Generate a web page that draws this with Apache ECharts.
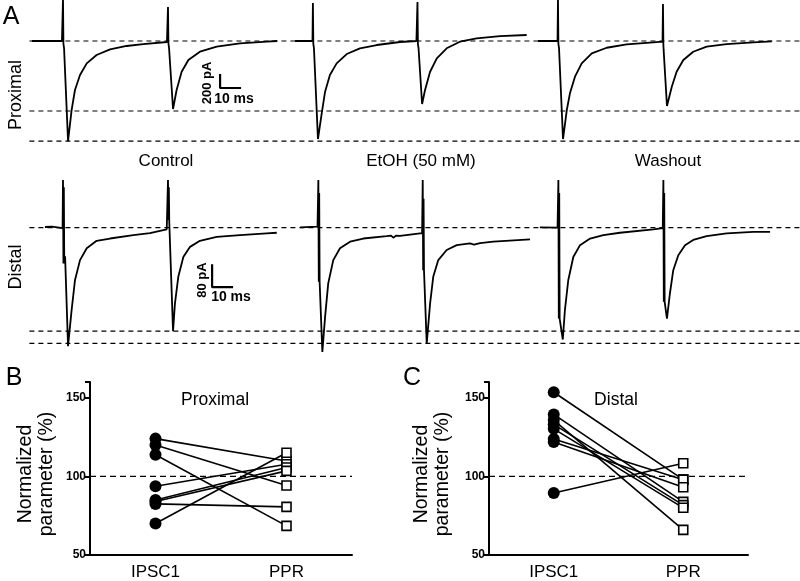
<!DOCTYPE html>
<html>
<head>
<meta charset="utf-8">
<script src="https://cdn.jsdelivr.net/npm/echarts@6/dist/echarts.min.js"></script>
<style>
html,body{margin:0;padding:0;background:#fff;}
#chart{width:800px;height:581px;}
</style>
</head>
<body>
<div id="chart"></div>
<script>
// ---------- Panel A: traces, [time (ms), current (pA)] ----------
const proxControl = [[15.2,0],[29.5,0],[30.0,600],[30.2,-40],[30.5,-100],[32.4,-1429],[34.1,-986],[35.7,-700],[38.1,-486],[41.3,-319],[46.0,-200],[52.4,-119],[60.3,-71],[68.2,-43],[79.5,-14],
  [80.0,486],[80.2,-30],[80.5,-100],[82.4,-971],[84.1,-700],[86.5,-438],[89.7,-271],[95.2,-153],[103.2,-81],[114.3,-33],[127,-10],[132,0]];
const proxEtOH = [[140.5,0],[148.8,0],[149.0,543],[149.2,-40],[149.5,-100],[151.4,-1400],[153.2,-1033],[154.8,-724],[157.1,-486],[160.3,-319],[165.1,-186],[171.4,-104],[179.4,-57],[190.5,-14],[198.3,0],
  [198.8,557],[199.0,-40],[199.3,-100],[201.0,-900],[202.4,-700],[204.8,-439],[208.0,-247],[212.7,-104],[219.0,-10],[227.0,39],[238.1,71],[250.8,86]];
const proxWashout = [[256.2,0],[265.5,0],[265.7,600],[265.9,-40],[266.2,-100],[268.1,-1400],[269.9,-986],[271.4,-747],[273.8,-510],[277.0,-319],[281.8,-176],[288.9,-96],[298.4,-47],[311.1,-19],[315.5,-10],
  [315.7,529],[315.9,-60],[316.0,-120],[317.6,-929],[319.9,-653],[322.2,-439],[325.4,-271],[330.1,-153],[336.5,-81],[346.0,-43],[358.7,-19],[367.5,-4]];
const distControl = [[21.4,2],[24.8,3],[29.8,-2],[30.0,165],[30.2,-125],[30.4,140],[30.6,-125],[31.0,-100],[32.4,-412],[34.1,-287],[35.7,-183],[38.1,-113],[41.3,-72],[46.0,-46],[52.4,-38],[63.5,-26],[71.4,-19],[79.4,-6],
  [80.0,165],[80.2,26],[80.4,140],[80.6,20],[82.4,-360],[83.3,-264],[84.9,-171],[87.3,-102],[90.5,-67],[95.2,-46],[103.2,-32],[114.3,-26],[127.0,-20],[131.8,-18]];
const distEtOH = [[142.9,1],[151.2,3],[151.6,165],[151.8,-188],[152.0,120],[152.2,-188],[153.5,-432],[154.8,-310],[156.3,-194],[158.7,-113],[161.9,-72],[166.7,-49],[173.0,-38],[184.1,-30],[186.2,-28],[187.3,-35],[188.6,-28],[190.5,-29],[201.0,-19],
  [201.3,165],[201.5,-148],[201.7,100],[201.9,-148],[203.2,-403],[204.8,-264],[206.3,-171],[208.7,-113],[212.7,-78],[217.5,-61],[223.8,-55],[225.7,-59],[228.6,-54],[234.9,-49],[252.4,-41]];
const distWashout = [[257.1,1],[265.5,0],[265.9,165],[266.1,-316],[266.3,120],[266.5,-316],[268.0,-389],[269.0,-287],[270.6,-183],[273.0,-102],[276.2,-61],[281.0,-38],[287.3,-26],[295.2,-18],[311.1,-6],[315.6,-2],
  [315.9,165],[316.1,-258],[316.3,120],[316.5,-258],[317.6,-316],[319.0,-229],[320.6,-148],[323.0,-96],[326.2,-61],[330.1,-43],[336.5,-30],[346.0,-20],[358.7,-15],[366.7,-15]];
const proxDashLevels = [0, -1000, -1429];
const distDashLevels = [0, -360, -402];
const dashStart = 14, dashEnd = 381;
const proxScaleBar = [[104.8,-471],[104.8,-671],[114.8,-671]]; // 200 pA, 10 ms
const distScaleBar = [[101,-127],[101,-207],[111,-207]];      // 80 pA, 10 ms
const conditions = ['Control', 'EtOH (50 mM)', 'Washout'];

// ---------- Panels B & C ----------
const groupLabels = ['', 'IPSC1', '', 'PPR', ''];
const yTicks = [50, 100, 150];
const proxIPSC1 = [124, 120, 113.7, 93.7, 85, 84, 82.5, 70];
const proxPPR   = [109.8, 94.2, 68.5, 107.7, 105.6, 103.5, 80.6, 115];
const distIPSC1 = [153.5, 139.4, 135.8, 133.1, 130.2, 123.8, 121.9, 89.4];
const distPPR   = [97.9, 83.8, 66, 81.7, 80, 97.9, 93.1, 108.3];

const FONT = 'Liberation Sans, Arial, sans-serif';
const chart = echarts.init(document.getElementById('chart'), null, {renderer:'canvas'});

function traceSeries(data, xi, yi){
  return {type:'line', xAxisIndex:xi, yAxisIndex:yi, data:data, showSymbol:false, symbol:'none',
    lineStyle:{color:'#000', width:1.8}, z:5, animation:false, clip:true};
}
function dashSeries(levels, xi, yi){
  return levels.map(v => ({type:'line', xAxisIndex:xi, yAxisIndex:yi, data:[[dashStart,v],[dashEnd,v]],
    symbol:'none', lineStyle:{color:'#000', width:1.2, type:[5,4]}, z:2, animation:false}));
}
function pairSeries(a, b, xi, yi){
  const s = [];
  a.forEach((v,i) => s.push({type:'line', xAxisIndex:xi, yAxisIndex:yi, data:[[1,v],[3,b[i]]],
    symbol:'none', lineStyle:{color:'#000', width:1.6}, z:3, animation:false}));
  s.push({type:'line', xAxisIndex:xi, yAxisIndex:yi, data:[[0,100],[4,100]], symbol:'none',
    lineStyle:{color:'#000', width:1.4, type:[6,4]}, z:2, animation:false});
  s.push({type:'scatter', xAxisIndex:xi, yAxisIndex:yi, data:a.map(v=>[1,v]), symbol:'circle', symbolSize:12,
    itemStyle:{color:'#000', opacity:1}, z:6, animation:false});
  s.push({type:'scatter', xAxisIndex:xi, yAxisIndex:yi, data:b.map(v=>[3,v]), symbol:'rect', symbolSize:9,
    itemStyle:{color:'#fff', borderColor:'#000', borderWidth:1.6, opacity:1}, z:6, animation:false});
  return s;
}
const hiddenX = {type:'value', show:false, min:0, max:380};
function panelX(gi){
  return {type:'category', gridIndex:gi, data:groupLabels, boundaryGap:false,
    axisLine:{lineStyle:{color:'#000', width:2}}, axisTick:{show:false},
    axisLabel:{interval:0, color:'#000', fontSize:17, fontFamily:FONT, margin:9}};
}
function panelY(gi){
  return {type:'value', gridIndex:gi, min:50, max:160, interval:50,
    axisLine:{show:true, lineStyle:{color:'#000', width:2}},
    axisTick:{show:true, length:5, lineStyle:{color:'#000', width:2}},
    axisLabel:{color:'#000', fontSize:12, fontWeight:'bold', fontFamily:FONT, margin:4,
      formatter: v => yTicks.indexOf(v) >= 0 ? String(v) : ''},
    splitLine:{show:false}};
}
function txt(x, y, s, size, opts){
  opts = opts || {};
  const el = {type:'text', x:x, y:y, z:10,
    style:{text:s, fill:'#000', font:(opts.weight?opts.weight+' ':'')+size+'px '+FONT,
      textAlign:'center', textVerticalAlign:'middle', lineHeight:opts.lh||undefined}};
  if (opts.rot) el.rotation = opts.rot;
  return el;
}

const option = {
  backgroundColor:'#fff',
  animation:false,
  grid:[
    {left:0, top:0, width:798, height:147},
    {left:0, top:170, width:798, height:190},
    {left:90, top:382, width:262, height:176},
    {left:489, top:382, width:259, height:176}
  ],
  xAxis:[
    Object.assign({gridIndex:0}, hiddenX),
    Object.assign({gridIndex:1}, hiddenX),
    panelX(2), panelX(3)
  ],
  yAxis:[
    {type:'value', gridIndex:0, show:false, min:-1514, max:586},
    {type:'value', gridIndex:1, show:false, min:-460, max:200},
    panelY(2), panelY(3)
  ],
  series:[].concat(
    dashSeries(proxDashLevels,0,0),
    dashSeries(distDashLevels,1,1),
    [traceSeries(proxControl,0,0), traceSeries(proxEtOH,0,0), traceSeries(proxWashout,0,0),
     traceSeries(distControl,1,1), traceSeries(distEtOH,1,1), traceSeries(distWashout,1,1),
     {type:'line', xAxisIndex:0, yAxisIndex:0, data:proxScaleBar, symbol:'none', lineStyle:{color:'#000', width:2.2}, z:5},
     {type:'line', xAxisIndex:1, yAxisIndex:1, data:distScaleBar, symbol:'none', lineStyle:{color:'#000', width:2.2}, z:5}],
    pairSeries(proxIPSC1, proxPPR, 2, 2),
    pairSeries(distIPSC1, distPPR, 3, 3)
  ),
  graphic:[
    txt(11, 17, 'A', 25),
    txt(14, 378, 'B', 25),
    txt(412, 378, 'C', 25),
    txt(16, 95, 'Proximal', 18, {rot:Math.PI/2}),
    txt(16, 267, 'Distal', 18, {rot:Math.PI/2}),
    txt(166, 161, conditions[0], 17),
    txt(421, 161, conditions[1], 17),
    txt(668, 161, conditions[2], 17),
    txt(207, 83, '200 pA', 13, {rot:Math.PI/2, weight:'bold'}),
    txt(234, 99, '10 ms', 14, {weight:'bold'}),
    txt(202, 280, '80 pA', 13, {rot:Math.PI/2, weight:'bold'}),
    txt(231, 297, '10 ms', 14, {weight:'bold'}),
    txt(215, 400, 'Proximal', 17.5),
    txt(616, 400, 'Distal', 17.5),
    txt(36, 474, 'Normalized\nparameter (%)', 19.5, {rot:Math.PI/2, lh:21}),
    txt(432, 474, 'Normalized\nparameter (%)', 19.5, {rot:Math.PI/2, lh:21})
  ]
};
chart.setOption(option);
</script>
</body>
</html>
